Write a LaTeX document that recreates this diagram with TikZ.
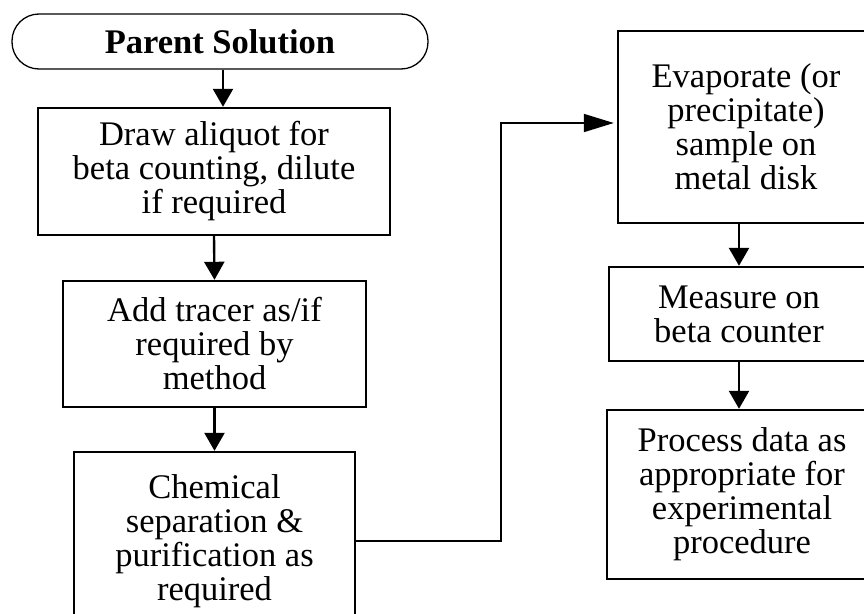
\documentclass[tikz,border=0pt]{standalone}
\usepackage{fontspec}
\setmainfont{Liberation Serif}
\usetikzlibrary{arrows.meta}
\begin{document}
\begin{tikzpicture}[x=1pt,y=-1pt,
  txt/.style={font=\fontsize{34.5}{34}\selectfont, align=center, inner sep=0pt},
  stepbox/.style={txt, draw, line width=2.4pt},
  startcap/.style={draw, line width=1.3pt, rounded corners=27pt,
    font=\fontsize{34.5}{36}\selectfont\bfseries, inner sep=0pt,
    minimum width=416pt, minimum height=55pt},
  darr/.style={line width=2.4pt, -{Triangle[length=18pt,width=20pt]}},
  harr/.style={line width=1.8pt, -{Triangle[length=30pt,width=18pt]}, shorten >=3pt}]
  \useasboundingbox (0,0) rectangle (864,613);

  % left column
  \node[startcap] (cap) at (220,41.5) {Parent Solution};
  \node[stepbox, minimum width=352pt, minimum height=127pt] (aliq) at (214,171.5)
    {Draw aliquot for\\beta counting, dilute\\if required};
  \node[stepbox, minimum width=303pt, minimum height=126pt] (tracer) at (214.5,344)
    {Add tracer as/if\\required by\\method};
  \node[stepbox, minimum width=281pt, minimum height=178pt] (chem) at (214.5,541)
    {Chemical\\separation \&\\purification as\\required};

  % right column
  \node[stepbox, minimum width=256pt, minimum height=192pt] (evap) at (746,127)
    {Evaporate (or\\precipitate)\\sample on\\metal disk};
  \node[stepbox, minimum width=260pt, minimum height=94pt] (meas) at (739,314)
    {Measure on\\beta counter};
  \node[stepbox, minimum width=270pt, minimum height=169pt] (proc) at (742,494.5)
    {Process data as\\appropriate for\\experimental\\procedure};

  % connectors
  \draw[darr] ([xshift=3pt]cap.south) -- ([xshift=3pt]cap.south |- aliq.north);
  \draw[darr] (aliq.south) -- (tracer.north);
  \draw[darr] (tracer.south) -- (chem.north);
  \coordinate (jog) at (501,123);
  \draw[harr] (chem.east) -| (jog) -- (evap.west |- jog);
  \draw[darr] (evap.south -| meas.north) -- (meas.north);
  \draw[darr] (meas.south) -- (meas.south |- proc.north);
\end{tikzpicture}
\end{document}
